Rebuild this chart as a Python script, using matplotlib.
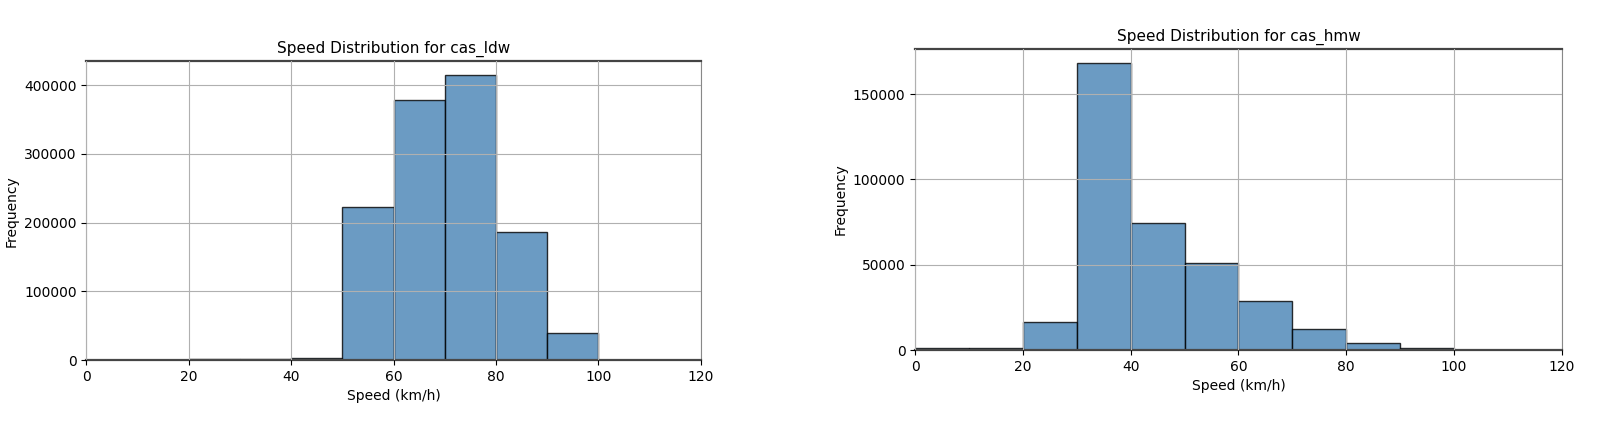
import numpy as np
import matplotlib.pyplot as plt

# bin edges (km/h) shared by both histograms
bin_edges = [0, 10, 20, 30, 40, 50, 60, 70, 80, 90, 100, 110, 120]

ldw_counts = [300, 300, 1500, 2000, 3000, 222000, 378000, 414000, 186000, 40000, 600, 100]
hmw_counts = [1000, 1000, 16300, 168000, 74300, 50800, 28600, 12200, 4300, 1000, 300, 100]

xticks = [0, 20, 40, 60, 80, 100, 120]
ldw_yticks = [0, 100000, 200000, 300000, 400000]
hmw_yticks = [0, 50000, 100000, 150000]


def speed_hist(ax, counts, yticks, name):
    ax.hist(bin_edges[:-1], bins=bin_edges, weights=counts,
            color="steelblue", alpha=0.8, edgecolor="black")
    ax.set_title("Speed Distribution for " + name, fontsize=11)
    ax.set_xlabel("Speed (km/h)", fontsize=10)
    ax.set_ylabel("Frequency", fontsize=10)
    ax.set_xlim(0, 120)
    ax.set_xticks(xticks)
    ax.set_yticks(yticks)
    ax.tick_params(labelsize=10)
    ax.grid(True, color="#b0b0b0", linewidth=0.8)
    ax.set_axisbelow(False)
    for s in ["top", "bottom"]:
        ax.spines[s].set_linewidth(1.6)
        ax.spines[s].set_color("#444444")
    for s in ["left", "right"]:
        ax.spines[s].set_color("#888888")


fig = plt.figure(figsize=(16, 4.37), dpi=100)
ax1 = fig.add_axes([0.054, 0.176, 0.384, 0.684])
ax2 = fig.add_axes([0.572, 0.199, 0.404, 0.689])

speed_hist(ax1, ldw_counts, ldw_yticks, "cas_ldw")
speed_hist(ax2, hmw_counts, hmw_yticks, "cas_hmw")

plt.savefig("out.png", dpi=100)
